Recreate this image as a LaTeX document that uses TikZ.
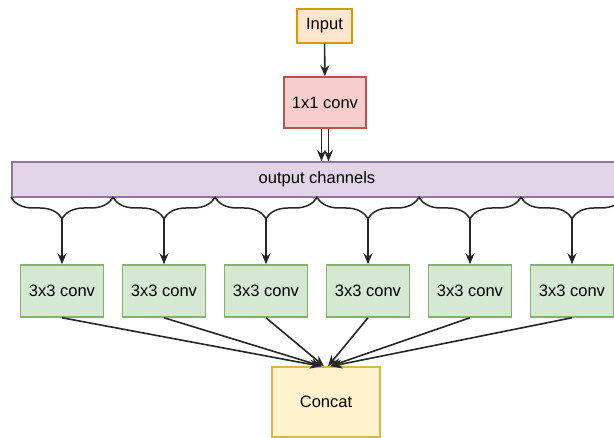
\documentclass[tikz,border=0pt]{standalone}
\usepackage{fontspec}
\setmainfont{Liberation Sans}
\usetikzlibrary{arrows.meta,decorations.pathreplacing}

\definecolor{inFill}{HTML}{FFE6CC}
\definecolor{inDraw}{HTML}{D79B00}
\definecolor{pwFill}{HTML}{F8CECC}
\definecolor{pwDraw}{HTML}{B85450}
\definecolor{chFill}{HTML}{E1D5E7}
\definecolor{chDraw}{HTML}{9673A6}
\definecolor{convFill}{HTML}{D5E8D4}
\definecolor{convDraw}{HTML}{82B366}
\definecolor{catFill}{HTML}{FFF2CC}
\definecolor{catDraw}{HTML}{D6B656}

\begin{document}
\begin{tikzpicture}[>={Stealth[length=11pt, width=9pt]}, x=1pt, y=-1pt]
  \tikzstyle{block} = [draw, line width=1.5pt, rectangle, inner sep=0pt, font={\fontsize{16.5}{19}\selectfont}]
  \tikzstyle{convBlock} = [block, fill=convFill, draw=convDraw, minimum width=83pt, minimum height=52pt]

  \tikzstyle{flowEdge} = [black!85, line width=1.6pt, ->];
  \tikzstyle{channelBrace} = [black!85, line width=1.5pt, decorate, decoration={brace, mirror, amplitude=22pt}];

  \clip (0,0) rectangle (614,438);

  \node[block, fill=inFill, draw=inDraw, minimum width=55pt, minimum height=34pt] (input) at (324.5,26) {Input};
  \node[block, fill=pwFill, draw=pwDraw, minimum width=82pt, minimum height=51pt] (pw) at (325,102.5) {1x1 conv};
  \node[block, fill=chFill, draw=chDraw, minimum width=610pt, minimum height=35pt] (channels) at (317,179.5) {output channels};

  % groups of channels
  \coordinate (g0) at (11,197);
  \coordinate (g1) at (113,197);
  \coordinate (g2) at (215,197);
  \coordinate (g3) at (317,197);
  \coordinate (g4) at (419,197);
  \coordinate (g5) at (521,197);
  \coordinate (g6) at (623,197);

  \coordinate (t1) at (62,219);
  \coordinate (t2) at (164,219);
  \coordinate (t3) at (266,219);
  \coordinate (t4) at (368,219);
  \coordinate (t5) at (470,219);
  \coordinate (t6) at (572,219);

  \node[convBlock] (c1) at (62,291)  {3x3 conv};
  \node[convBlock] (c2) at (164,291) {3x3 conv};
  \node[convBlock] (c3) at (266,291) {3x3 conv};
  \node[convBlock] (c4) at (368,291) {3x3 conv};
  \node[convBlock] (c5) at (470,291) {3x3 conv};
  \node[convBlock] (c6) at (572,291) {3x3 conv};

  \node[block, fill=catFill, draw=catDraw, minimum width=108pt, minimum height=70pt] (concat) at (326,402) {Concat};

  \draw[flowEdge] (input) -- (pw);
  \draw[flowEdge] ([xshift=-3.5pt]pw.south) -- ([xshift=-3.5pt]pw.south |- channels.north);
  \draw[flowEdge] ([xshift=3.5pt]pw.south) -- ([xshift=3.5pt]pw.south |- channels.north);

  \draw[channelBrace] (g0) -- (g1);
  \draw[channelBrace] (g1) -- (g2);
  \draw[channelBrace] (g2) -- (g3);
  \draw[channelBrace] (g3) -- (g4);
  \draw[channelBrace] (g4) -- (g5);
  \draw[channelBrace] (g5) -- (g6);

  \path (t1) edge[flowEdge] (c1)
        (t2) edge[flowEdge] (c2)
        (t3) edge[flowEdge] (c3)
        (t4) edge[flowEdge] (c4)
        (t5) edge[flowEdge] (c5)
        (t6) edge[flowEdge] (c6);

  \path (c1.south) edge[flowEdge] ([xshift=-5pt]concat.north)
        (c2.south) edge[flowEdge] ([xshift=-4pt]concat.north)
        (c3.south) edge[flowEdge] ([xshift=-2pt]concat.north)
        (c4.south) edge[flowEdge] ([xshift=2pt]concat.north)
        (c5.south) edge[flowEdge] ([xshift=4pt]concat.north)
        (c6.south) edge[flowEdge] ([xshift=5pt]concat.north);
\end{tikzpicture}
\end{document}
